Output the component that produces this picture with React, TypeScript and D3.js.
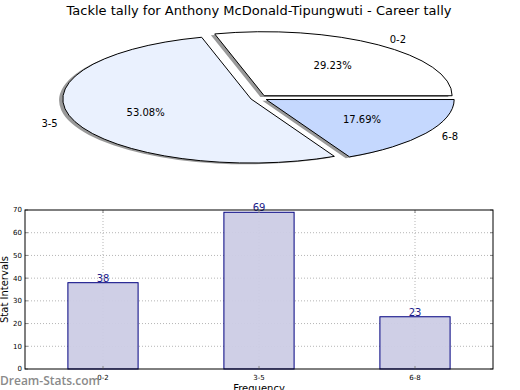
import React from 'react';
import * as d3 from 'd3';

const categories = ['0-2', '3-5', '6-8'];
const counts = [38, 69, 23];
const yTicks = [0, 10, 20, 30, 40, 50, 60, 70];

const sliceColors = ['#ffffff', '#eaf1fe', '#c5d8fe'];
const font = '"DejaVu Sans", sans-serif';

const W = 520;
const H = 390;

// pie geometry (ellipse, matplotlib style: start at 3 o'clock, counter-clockwise)
const pieC = { x: 259, y: 98 };
const rx = 188;
const ry = 64;
const explode = 0.045;

const pieLayout = d3
  .pie<number>()
  .sort(null)
  .startAngle(Math.PI / 2)
  .endAngle(Math.PI / 2 - 2 * Math.PI)(counts);

const unitArc = d3.arc<any>().innerRadius(0).outerRadius(1);

const total = d3.sum(counts);

const App: React.FC = () => {
  const margin = { top: 210, right: 27, bottom: 21, left: 25 };
  const x = d3.scaleLinear().domain([-0.5, 2.5]).range([margin.left, W - margin.right]);
  const y = d3.scaleLinear().domain([0, 70]).range([H - margin.bottom, margin.top]);
  const barW = 0.45;

  return (
    <svg
      width={W}
      height={H}
      style={{ position: 'absolute', left: 0, top: 0, background: '#fff' }}
      fontFamily={font}
    >
      <text x={259} y={15} textAnchor="middle" fontSize={13} fill="#000">
        Tackle tally for Anthony McDonald-Tipungwuti - Career tally
      </text>

      {/* shadows */}
      {pieLayout.map((s, i) => {
        const mid = (s.startAngle + s.endAngle) / 2;
        const ox = Math.sin(mid) * explode * rx - 0.02 * rx;
        const oy = -Math.cos(mid) * explode * ry + 0.02 * ry;
        return (
          <g key={'sh' + i} transform={`translate(${pieC.x + ox},${pieC.y + oy}) scale(${rx},${ry})`}>
            <path d={unitArc(s) as string} fill="#7f7f7f" fillOpacity={0.8} />
          </g>
        );
      })}
      {/* slices */}
      {pieLayout.map((s, i) => {
        const mid = (s.startAngle + s.endAngle) / 2;
        const ox = Math.sin(mid) * explode * rx;
        const oy = -Math.cos(mid) * explode * ry;
        return (
          <g key={'sl' + i} transform={`translate(${pieC.x + ox},${pieC.y + oy}) scale(${rx},${ry})`}>
            <path
              d={unitArc(s) as string}
              fill={sliceColors[i]}
              stroke="#000"
              strokeWidth={1}
              vectorEffect="non-scaling-stroke"
              strokeLinejoin="round"
            />
          </g>
        );
      })}
      {pieLayout.map((s, i) => {
        const mid = (s.startAngle + s.endAngle) / 2;
        const sx = Math.sin(mid);
        const cy = -Math.cos(mid);
        const lx = pieC.x + sx * (explode + 1.1) * rx;
        const ly = pieC.y + cy * (explode + 1.1) * ry;
        const px = pieC.x + sx * (explode + 0.6) * rx;
        const py = pieC.y + cy * (explode + 0.6) * ry;
        return (
          <g key={'lb' + i} fontSize={10}>
            <text x={lx} y={ly} dy="0.35em" textAnchor={sx > 0 ? 'start' : 'end'}>
              {categories[i]}
            </text>
            <text x={px} y={py} dy="0.35em" textAnchor="middle">
              {((counts[i] / total) * 100).toFixed(2)}%
            </text>
          </g>
        );
      })}

      {/* bar chart grid */}
      {yTicks.slice(1, -1).map(t => (
        <line
          key={'gy' + t}
          x1={x(-0.5)}
          x2={x(2.5)}
          y1={y(t)}
          y2={y(t)}
          stroke="#b5b5b5"
          strokeDasharray="1,2"
        />
      ))}
      {categories.map((c, i) => (
        <line
          key={'gx' + c}
          x1={x(i)}
          x2={x(i)}
          y1={y(0)}
          y2={y(70)}
          stroke="#b5b5b5"
          strokeDasharray="1,2"
        />
      ))}

      {counts.map((v, i) => (
        <rect
          key={'b' + i}
          x={x(i - barW / 2)}
          y={y(v)}
          width={x(barW) - x(0)}
          height={y(0) - y(v)}
          fill="#cccce5"
          fillOpacity={0.95}
          stroke="#000080"
          strokeWidth={1}
        />
      ))}
      {counts.map((v, i) => (
        <text key={'v' + i} x={x(i)} y={y(v) - 1} textAnchor="middle" fontSize={10} fill="#1c1c8a">
          {v}
        </text>
      ))}

      {/* ticks */}
      {yTicks.map(t => (
        <g key={'ty' + t}>
          <line x1={x(-0.5)} x2={x(-0.5) + 3} y1={y(t)} y2={y(t)} stroke="#888" />
          <line x1={x(2.5)} x2={x(2.5) - 3} y1={y(t)} y2={y(t)} stroke="#888" />
          <text x={x(-0.5) - 3} y={y(t)} dy="0.35em" textAnchor="end" fontSize={7}>
            {t}
          </text>
        </g>
      ))}
      {categories.map((c, i) => (
        <g key={'tx' + c}>
          <line x1={x(i)} x2={x(i)} y1={y(0)} y2={y(0) - 3} stroke="#888" />
          <line x1={x(i)} x2={x(i)} y1={y(70)} y2={y(70) + 3} stroke="#888" />
          <text x={x(i)} y={y(0) + 9} dy="0.35em" textAnchor="middle" fontSize={7}>
            {c}
          </text>
        </g>
      ))}

      <rect
        x={x(-0.5)}
        y={y(70)}
        width={x(2.5) - x(-0.5)}
        height={y(0) - y(70)}
        fill="none"
        stroke="#000"
        strokeWidth={1}
      />

      <text x={259} y={392} textAnchor="middle" fontSize={10}>
        Frequency
      </text>
      <text
        transform={`translate(8,${(y(0) + y(70)) / 2}) rotate(-90)`}
        textAnchor="middle"
        fontSize={10}
      >
        Stat Intervals
      </text>

      <text x={0} y={385} fontSize={12} fill="#8a8a8a" fontFamily='"Open Sans", sans-serif' fontWeight={600}>
        Dream-Stats.com
      </text>
    </svg>
  );
};

export default App;
